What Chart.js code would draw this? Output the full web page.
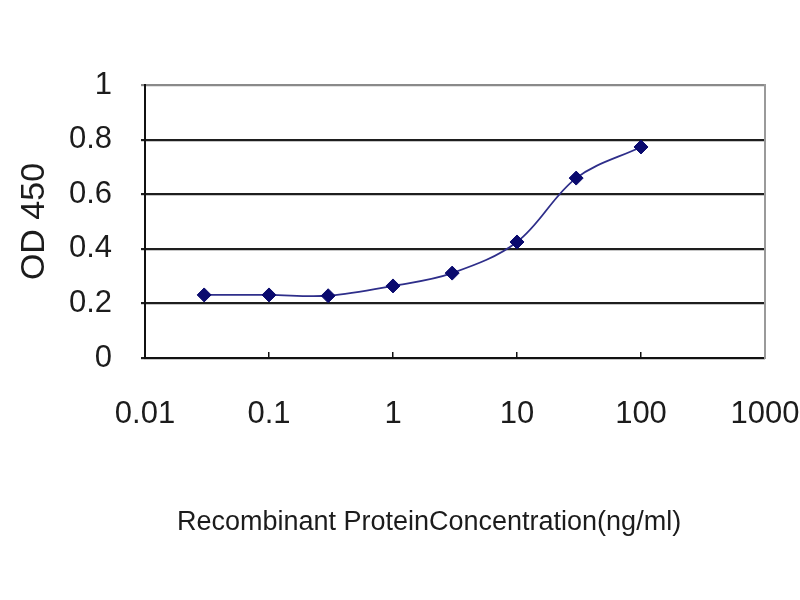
<!DOCTYPE html>
<html>
<head>
<meta charset="utf-8">
<title>OD 450</title>
<script src="https://cdn.jsdelivr.net/npm/chart.js@4"></script>
<style>
  html, body { margin: 0; padding: 0; background: #fff; }
  #chart { display: block; }
</style>
</head>
<body>
<canvas id="chart" width="800" height="600"></canvas>
<script>
// ===== data =====
const concentrations = [0.03, 0.1, 0.3, 1, 3, 10, 30, 100];
const odValues       = [0.231, 0.231, 0.228, 0.264, 0.311, 0.425, 0.659, 0.773];
const xTickValues    = [0.01, 0.1, 1, 10, 100, 1000];
const yTickValues    = [0, 0.2, 0.4, 0.6, 0.8, 1];

const X_TITLE = 'Recombinant ProteinConcentration(ng/ml)';
const Y_TITLE = 'OD 450';
const FONT    = "'Liberation Sans', Arial, sans-serif";
const INK     = '#1c1c1c';

// x軸タイトルは中心位置をずらすため自前で描く
const xTitlePlugin = {
  id: 'xTitle',
  afterDraw(chart) {
    const ctx = chart.ctx;
    ctx.save();
    ctx.font = `27px ${FONT}`;
    ctx.fillStyle = INK;
    ctx.textAlign = 'center';
    ctx.textBaseline = 'middle';
    ctx.fillText(X_TITLE, 429, 523);
    ctx.restore();
  },
};

new Chart(document.getElementById('chart').getContext('2d'), {
  type: 'scatter',
  data: {
    datasets: [{
      data: concentrations.map((c, i) => ({ x: c, y: odValues[i] })),
      showLine:             true,
      borderColor:          '#2e2e8a',
      borderWidth:          1.8,
      tension:              0.35,
      pointStyle:           'rectRot',
      pointRadius:          7,
      pointBackgroundColor: '#0a0a6e',
      pointBorderColor:     '#0a0a6e',
      pointBorderWidth:     1,
    }],
  },
  options: {
    responsive: false,
    animation: false,
    layout: { padding: { top: 85, right: 35, left: 0, bottom: 0 } },
    plugins: { legend: { display: false }, tooltip: { enabled: false } },
    scales: {
      x: {
        type: 'logarithmic',
        min: 0.01,
        max: 1000,
        afterBuildTicks: s => { s.ticks = xTickValues.map(v => ({ value: v })); },
        afterFit: s => {
          s.height = 242;
          // ラベルのはみ出し分で描画領域が縮まないように
          s.paddingLeft = 0;
          s.paddingRight = 0;
        },
        ticks: {
          callback: v => String(v),
          font: { family: FONT, size: 31 },
          color: INK,
          padding: 44,
          maxRotation: 0,
          autoSkip: false,
        },
        grid: {
          drawOnChartArea: false,
          drawTicks: true,
          tickLength: -6,
          color: '#111',
          lineWidth: 1.5,
        },
        border: { color: '#111', width: 2 },
      },
      y: {
        min: 0,
        max: 1,
        afterBuildTicks: s => { s.ticks = yTickValues.map(v => ({ value: v })); },
        afterFit: s => { s.width = 145; },
        ticks: {
          callback: v => String(v),
          font: { family: FONT, size: 31 },
          color: INK,
          padding: 29,
        },
        grid: {
          color: ctx => (ctx.tick && ctx.tick.value === 1 ? '#8a8a8a' : '#1e1e1e'),
          lineWidth: 2.2,
          drawTicks: true,
          tickLength: 4,
        },
        border: { color: '#111', width: 2 },
        title: {
          display: true,
          text: Y_TITLE,
          font: { family: FONT, size: 34 },
          color: INK,
          padding: { top: 14, bottom: 0 },
        },
      },
      yRight: {
        position: 'right',
        min: 0,
        max: 1,
        afterFit: s => { s.width = 0; },
        ticks: { display: false },
        grid: { display: false },
        border: { color: '#9a9a9a', width: 2 },
      },
    },
  },
  plugins: [xTitlePlugin],
});
</script>
</body>
</html>
